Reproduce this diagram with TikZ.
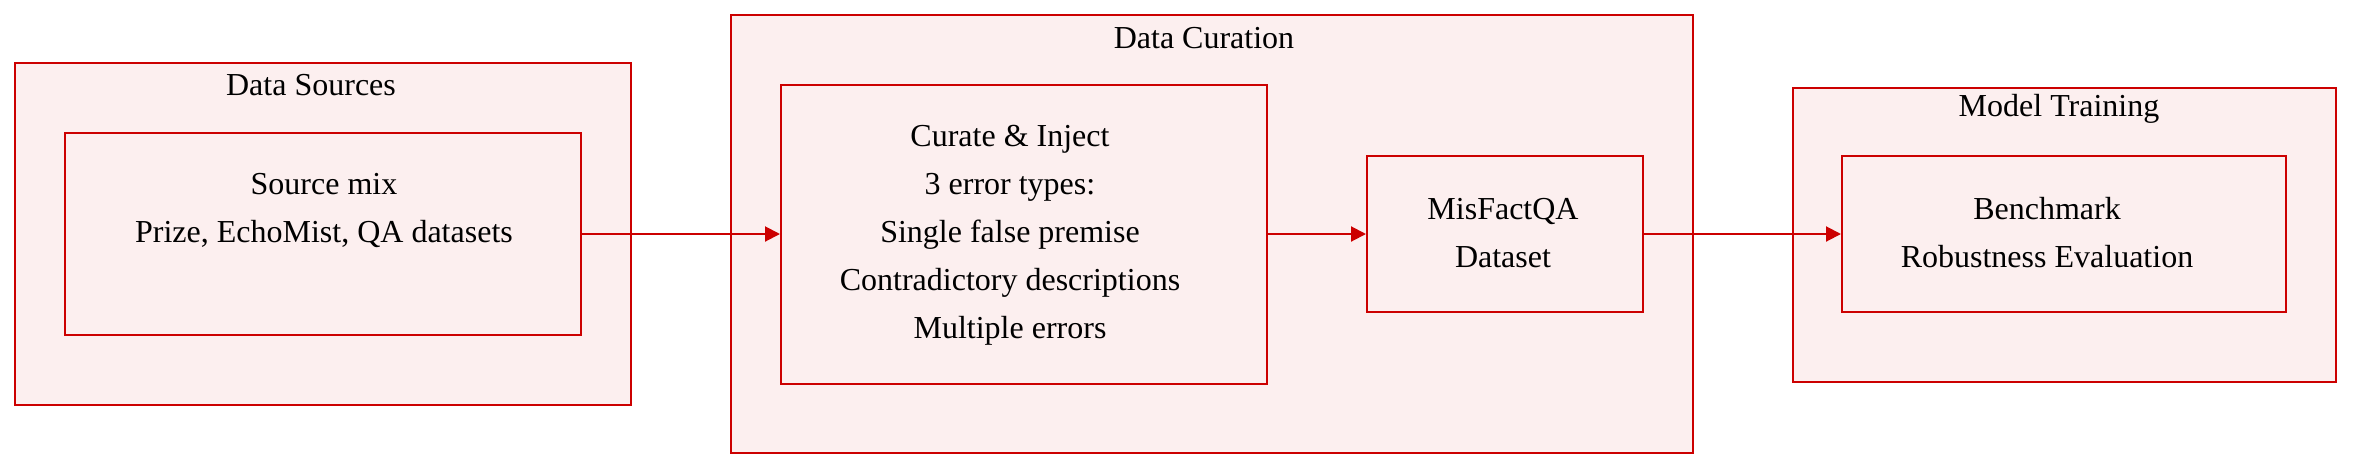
\documentclass[tikz,border=0pt]{standalone}
\usepackage{fontspec}
\setmainfont{Liberation Serif}
\usetikzlibrary{arrows.meta}
\definecolor{edgered}{RGB}{204,0,0}
\definecolor{boxfill}{RGB}{252,239,239}
\tikzset{
  cluster/.style={draw=edgered,fill=boxfill,line width=1pt,inner sep=0pt},
  stepbox/.style={draw=edgered,fill=boxfill,line width=1pt,inner sep=0pt},
  txt/.style={align=center,font=\fontsize{16pt}{24pt}\selectfont,inner sep=0pt},
  flow/.style={draw=edgered,line width=1pt,-{Triangle[length=7.5pt,width=7.5pt]}}
}
\begin{document}
\begin{tikzpicture}[x=0.5pt,y=-0.5pt]
      \useasboundingbox (0,0) rectangle (2368,472);
      \draw[cluster] (15,63) rectangle (631,405);
      \draw[cluster] (731,15) rectangle (1693,453);
      \draw[cluster] (1793,88) rectangle (2336,382);
      \draw
        (311,85) node[txt] (srcT){Data Sources}
        (1204,38) node[txt] (curT){Data Curation}
        (2059,109) node[txt] (trnT){Model Training};
      \draw
        (323,234) node[stepbox,minimum width=258pt,minimum height=101pt] (src){}
        (1024,234) node[stepbox,minimum width=243pt,minimum height=149.5pt] (cur){}
        (1505,234) node[stepbox,minimum width=138pt,minimum height=78pt] (mis){}
        (2064,234) node[stepbox,minimum width=222pt,minimum height=78pt] (bench){};
      \draw
        (324,210.5) node[txt] (srcL){Source mix\\Prize, EchoMist, QA datasets}
        (1010,235) node[txt] (curL){Curate \& Inject\\3 error types:\\Single false premise\\Contradictory descriptions\\Multiple errors}
        (1503,233) node[txt] (misL){MisFactQA\\Dataset}
        (2047,233) node[txt] (benchL){Benchmark\\Robustness Evaluation};
      \begin{scope}[flow]
        \draw (src.east) to (cur.west);
        \draw (cur.east) to (mis.west);
        \draw (mis.east) to (bench.west);
      \end{scope}
    \end{tikzpicture}
\end{document}
